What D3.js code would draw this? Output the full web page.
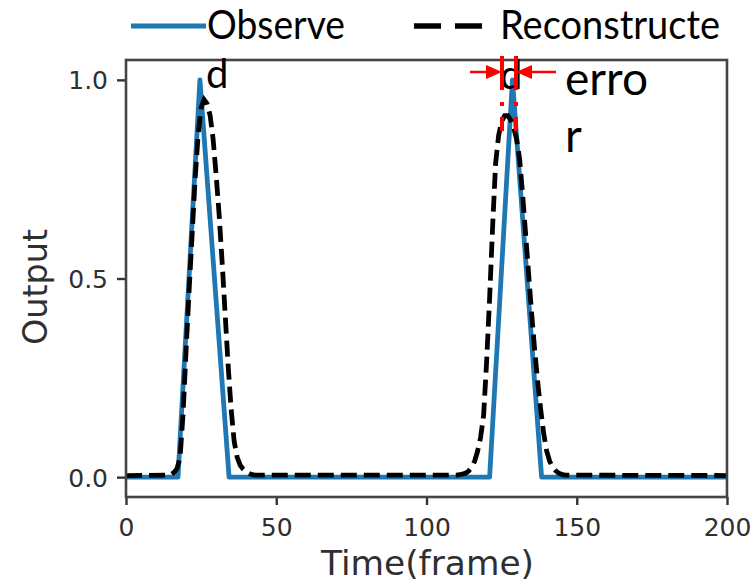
<!DOCTYPE html>
<html>
<head>
<meta charset="utf-8">
<script src="https://cdn.jsdelivr.net/npm/d3@7"></script>
<style>
  html, body { margin: 0; padding: 0; background: #fff; }
  svg { display: block; }
</style>
</head>
<body>
<svg id="chart" width="754" height="586"></svg>
<script>
// ---------- data ----------
const observedFrames = [0, 17.3, 24.6, 34.3, 121, 128.6, 138.3, 200];
const observedValues = [0, 0, 1, 0, 0, 1, 0, 0];

const reconFrames = [0, 14, 15, 16, 17, 18, 19, 20, 21, 22, 23, 24, 25, 26, 27, 28, 29, 30, 31, 32, 33, 34, 35, 36, 37, 38, 39, 40, 41, 42, 43,
  110, 111, 112, 113, 114, 115, 116, 117, 118, 119, 120, 121, 122, 123, 124, 125, 126, 127, 128, 129, 130, 131, 132, 133, 134, 135, 136, 137, 138, 139, 140, 141, 142, 143, 144, 145, 146, 200];
const reconValues = [0.004, 0.005, 0.007, 0.012, 0.022, 0.05, 0.16, 0.32, 0.47, 0.61, 0.75, 0.86, 0.93, 0.95, 0.94, 0.91, 0.85, 0.76, 0.66, 0.54, 0.41, 0.28, 0.17, 0.09, 0.05, 0.03, 0.02, 0.013, 0.009, 0.006, 0.005,
  0.005, 0.006, 0.008, 0.01, 0.015, 0.025, 0.04, 0.065, 0.1, 0.155, 0.29, 0.45, 0.63, 0.79, 0.86, 0.895, 0.91, 0.91, 0.9, 0.88, 0.85, 0.8, 0.71, 0.61, 0.51, 0.41, 0.32, 0.24, 0.17, 0.11, 0.065, 0.04, 0.025, 0.016, 0.01, 0.007, 0.005, 0.004];

const xTicks = [0, 50, 100, 150, 200];
const yTicks = [0.0, 0.5, 1.0];
const legendLabels = ["Observe", "d", "Reconstructe", "d"];
const errorLabels = ["erro", "r"];

// ---------- layout ----------
const svg = d3.select("#chart");
const L = 126, R = 727, T = 60, B = 497;
const x = d3.scaleLinear().domain([0, 200]).range([L, R]);
const y = d3.scaleLinear().domain([-0.05, 1.05]).range([B, T]);

const tickFont = "'DejaVu Sans', sans-serif";
const textColor = "#2f2f2f";

// axes
const xAxis = d3.axisBottom(x).tickValues(xTicks).tickFormat(d3.format("d")).tickSize(8).tickPadding(8);
const yAxis = d3.axisLeft(y).tickValues(yTicks).tickFormat(d3.format(".1f")).tickSize(9).tickPadding(9);

const gx = svg.append("g").attr("transform", `translate(0,${B})`).call(xAxis);
const gy = svg.append("g").attr("transform", `translate(${L},0)`).call(yAxis);
[gx, gy].forEach(g => {
  g.select(".domain").remove();
  g.selectAll(".tick line").attr("stroke", "#333").attr("stroke-width", 2.4);
  g.selectAll(".tick text").attr("fill", textColor).style("font-family", tickFont).style("font-size", "25px");
});
gx.selectAll(".tick text").attr("dy", "0.9em");
gy.selectAll(".tick text").attr("dy", "0.36em");

// lines
const clipId = "plotclip";
svg.append("clipPath").attr("id", clipId).append("rect").attr("x", L).attr("y", T).attr("width", R - L).attr("height", B - T);

const obs = observedFrames.map((f, i) => [f, observedValues[i]]);
const rec = reconFrames.map((f, i) => [f, reconValues[i]]);
const line = d3.line().x(d => x(d[0])).y(d => y(d[1]));

const plot = svg.append("g").attr("clip-path", `url(#${clipId})`);
plot.append("path").datum(obs).attr("d", line).attr("fill", "none")
  .attr("stroke", "#1f77b4").attr("stroke-width", 4.8).attr("stroke-linejoin", "round");
plot.append("path").datum(rec).attr("d", line).attr("fill", "none")
  .attr("stroke", "#000").attr("stroke-width", 4.8).attr("stroke-dasharray", "16,7");

// frame
svg.append("rect").attr("x", L).attr("y", T).attr("width", R - L).attr("height", B - T)
  .attr("fill", "none").attr("stroke", "#444").attr("stroke-width", 2.6);

// axis labels
svg.append("text").attr("x", (L + R) / 2 + 1).attr("y", 575).attr("text-anchor", "middle")
  .style("font-family", tickFont).style("font-size", "33px").attr("fill", textColor)
  .attr("textLength", 213).attr("lengthAdjust", "spacingAndGlyphs").text("Time(frame)");
svg.append("text").attr("transform", `translate(47,${287}) rotate(-90)`).attr("text-anchor", "middle")
  .style("font-family", tickFont).style("font-size", "33px").attr("fill", textColor)
  .attr("textLength", 116).attr("lengthAdjust", "spacingAndGlyphs").text("Output");

// legend overlay
const legFont = "Lato, 'Open Sans', sans-serif";
const leg = svg.append("g");
leg.append("line").attr("x1", 131).attr("x2", 206).attr("y1", 26).attr("y2", 26)
  .attr("stroke", "#1f77b4").attr("stroke-width", 5);
leg.append("line").attr("x1", 414).attr("x2", 482).attr("y1", 26).attr("y2", 26)
  .attr("stroke", "#000").attr("stroke-width", 5.5).attr("stroke-dasharray", "27,14");
const legText = (tx, ty, s, w) => {
  const t = leg.append("text").attr("x", tx).attr("y", ty)
    .style("font-family", legFont).style("font-size", "40px").attr("fill", "#000").text(s);
  if (w) t.attr("textLength", w).attr("lengthAdjust", "spacingAndGlyphs");
  return t;
};
legText(207, 39, legendLabels[0], 138);
legText(206, 88, legendLabels[1]);
legText(500, 39, legendLabels[2], 220);
legText(500, 89, legendLabels[3]);

// error annotation (red)
const red = "#ff0000";
const ann = svg.append("g");
const exL = 502, exR = 516;
[exL, exR].forEach(px => {
  ann.append("line").attr("x1", px).attr("x2", px).attr("y1", 56).attr("y2", 90).attr("stroke", red).attr("stroke-width", 4);
  ann.append("line").attr("x1", px).attr("x2", px).attr("y1", 102).attr("y2", 106).attr("stroke", red).attr("stroke-width", 4);
  ann.append("line").attr("x1", px).attr("x2", px).attr("y1", 117).attr("y2", 131).attr("stroke", red).attr("stroke-width", 4);
});
const ay = 72;
ann.append("line").attr("x1", 470).attr("x2", exL - 12).attr("y1", ay).attr("y2", ay).attr("stroke", red).attr("stroke-width", 2.5);
ann.append("path").attr("d", `M${exL},${ay} L${exL - 16},${ay - 7} L${exL - 16},${ay + 7} Z`).attr("fill", red);
ann.append("line").attr("x1", 556).attr("x2", exR + 12).attr("y1", ay).attr("y2", ay).attr("stroke", red).attr("stroke-width", 2.5);
ann.append("path").attr("d", `M${exR},${ay} L${exR + 16},${ay - 7} L${exR + 16},${ay + 7} Z`).attr("fill", red);

svg.append("text").attr("x", 565).attr("y", 95).style("font-family", legFont).style("font-size", "46px")
  .attr("fill", "#000").attr("textLength", 83).attr("lengthAdjust", "spacingAndGlyphs").text(errorLabels[0]);
svg.append("text").attr("x", 565).attr("y", 152).style("font-family", legFont).style("font-size", "46px")
  .attr("fill", "#000").text(errorLabels[1]);
</script>
</body>
</html>
